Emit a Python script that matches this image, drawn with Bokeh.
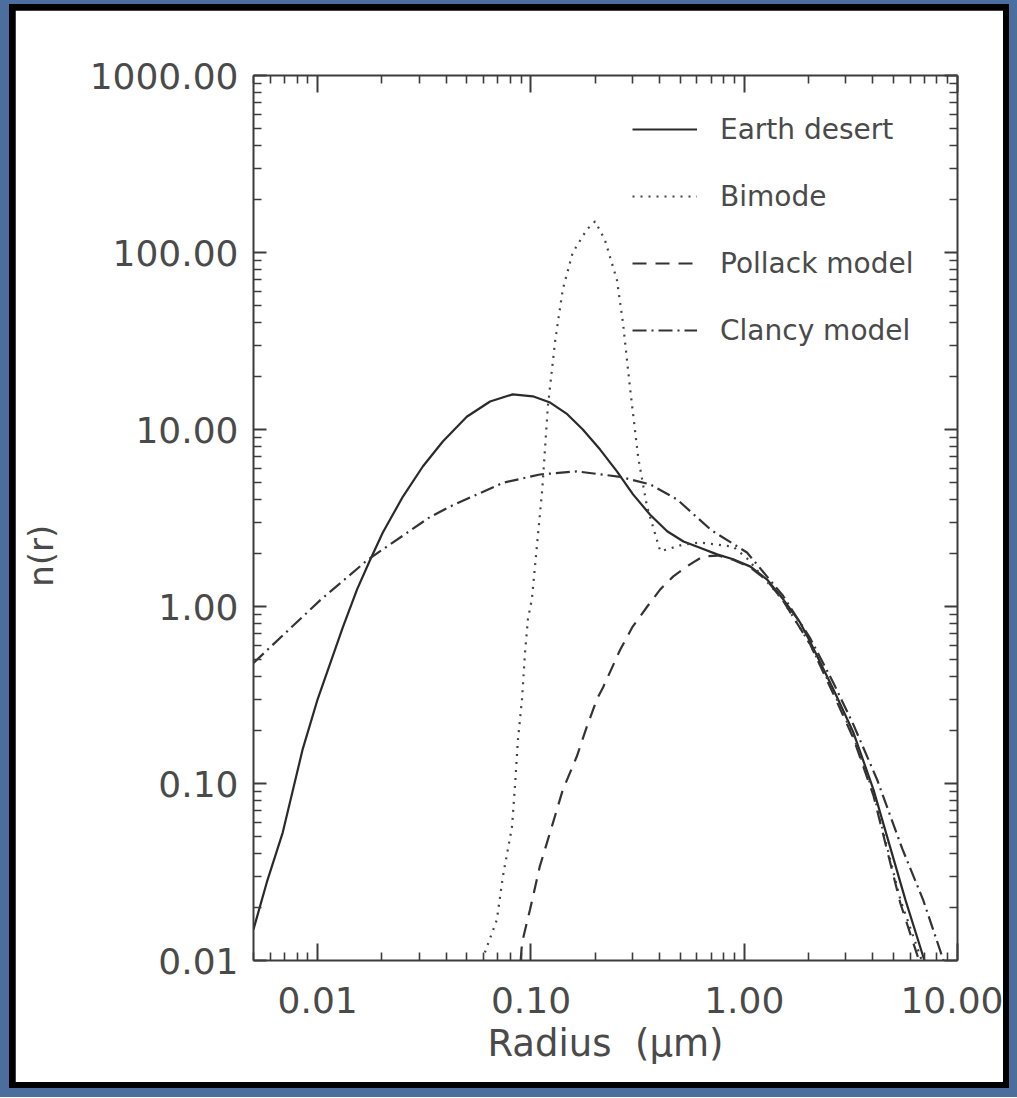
from bokeh.plotting import figure
from bokeh.models import (LogAxis, FixedTicker, PrintfTickFormatter, Range1d,
                          CustomLabelingPolicy)
from bokeh.layouts import column
from bokeh.embed import file_html
from bokeh.resources import INLINE

# ---------------- data ----------------
radius_desert = [0.005, 0.00577, 0.00686, 0.0085, 0.010, 0.0131, 0.0153, 0.0175, 0.0202,
                 0.0251, 0.0311, 0.0386, 0.050, 0.0643, 0.0822, 0.102, 0.123, 0.148, 0.175,
                 0.211, 0.253, 0.301, 0.362, 0.435, 0.519, 0.62, 0.746, 0.887, 1.07, 1.28,
                 1.52, 1.83, 2.04, 2.62, 3.25, 4.04, 5.7, 7.0]
n_desert = [0.015, 0.0276, 0.053, 0.156, 0.30, 0.76, 1.25, 1.8, 2.62,
            4.18, 6.18, 8.55, 11.8, 14.4, 15.8, 15.4, 14.2, 12.2, 10.0,
            7.7, 5.8, 4.3, 3.3, 2.66, 2.33, 2.15, 1.97, 1.85, 1.68, 1.42,
            1.10, 0.81, 0.63, 0.34, 0.194, 0.092, 0.022, 0.01]

radius_bimode = [0.0608, 0.0692, 0.0739, 0.0815, 0.0841, 0.0869, 0.0908, 0.0938, 0.0968,
                 0.101, 0.113, 0.120, 0.130, 0.141, 0.157, 0.183, 0.200, 0.222, 0.253,
                 0.270, 0.292, 0.318, 0.350, 0.404, 0.518, 0.62, 0.887, 1.04, 1.52, 2.04,
                 2.62, 3.25, 4.04, 5.4, 6.8]
n_bimode = [0.0111, 0.017, 0.030, 0.057, 0.096, 0.177, 0.30, 0.55, 0.85,
            1.10, 4.6, 13.5, 32, 62, 100, 135, 150, 118, 70,
            40, 16.8, 7.0, 3.67, 2.05, 2.24, 2.30, 2.18, 1.85, 1.08, 0.61,
            0.33, 0.185, 0.088, 0.022, 0.01]

radius_pollack = [0.0895, 0.0908, 0.099, 0.110, 0.123, 0.141, 0.164, 0.183, 0.204, 0.218,
                  0.262, 0.30, 0.351, 0.404, 0.465, 0.557, 0.642, 0.75, 0.887, 1.07, 1.28,
                  1.52, 2.04, 2.62, 3.25, 4.04, 5.4, 6.6]
n_pollack = [0.010, 0.0126, 0.0194, 0.034, 0.053, 0.092, 0.142, 0.21, 0.30, 0.35,
             0.57, 0.77, 1.0, 1.25, 1.48, 1.73, 1.92, 1.94, 1.84, 1.66, 1.40,
             1.08, 0.61, 0.32, 0.18, 0.085, 0.021, 0.01]

radius_clancy = [0.005, 0.0104, 0.0172, 0.0336, 0.0417, 0.074, 0.110, 0.164, 0.262, 0.362,
                 0.484, 0.70, 1.03, 1.52, 2.04, 2.62, 3.25, 4.2, 5.5, 6.9, 8.6]
n_clancy = [0.48, 1.1, 1.84, 3.2, 3.67, 5.0, 5.57, 5.8, 5.4, 4.9,
            4.03, 2.7, 2.02, 1.15, 0.66, 0.37, 0.215, 0.105, 0.043, 0.022, 0.01]

series_labels = ["Earth desert", "Bimode", "Pollack model", "Clancy model"]

x_major_ticks = [0.01, 0.1, 1.0, 10.0]
y_major_ticks = [0.01, 0.1, 1.0, 10.0, 100.0, 1000.0]
x_label = "Radius\u00a0 (μm)"
y_label = "n(r)"

# ---------------- figure ----------------
FONT = "DejaVu Sans"
INK = "#3c3c3c"
TXT = "#4a4a4a"

x_minor = [k * 10.0 ** d for d in range(-3, 1) for k in range(2, 10)]
y_minor = [k * 10.0 ** d for d in range(-2, 3) for k in range(2, 10)]

p = figure(x_axis_type="log", y_axis_type="log",
           x_range=Range1d(0.005, 10.0), y_range=Range1d(0.01, 1000.0),
           frame_width=704, frame_height=885,
           min_border_left=238, min_border_right=46,
           min_border_top=65, min_border_bottom=122,
           output_backend="svg", toolbar_location=None,
           background_fill_color="white", border_fill_color="white",
           outline_line_color=None)
p.grid.visible = False

p.line(radius_desert, n_desert, line_color="#2a2a2a", line_width=2.2,
       legend_label=series_labels[0])
p.line(radius_bimode, n_bimode, line_color="#444444", line_width=2.2,
       line_dash="2 6", legend_label=series_labels[1])
p.line(radius_pollack, n_pollack, line_color="#333333", line_width=2.2,
       line_dash="14 9", legend_label=series_labels[2])
p.line(radius_clancy, n_clancy, line_color="#333333", line_width=2.2,
       line_dash="14 5 2 5", legend_label=series_labels[3])

xticker = FixedTicker(ticks=x_major_ticks, minor_ticks=x_minor)
yticker = FixedTicker(ticks=y_major_ticks, minor_ticks=y_minor)

no_labels = CustomLabelingPolicy(
    code="for (const i of Array.from(indices)) indices.unset(i); return indices")


def style_axis(ax, major_len, labels=True):
    ax.axis_line_color = INK
    ax.axis_line_width = 2
    ax.major_tick_line_color = INK
    ax.major_tick_line_width = 2
    ax.minor_tick_line_color = INK
    ax.minor_tick_line_width = 1.6
    ax.major_tick_in = major_len
    ax.major_tick_out = 0
    ax.minor_tick_in = 8
    ax.minor_tick_out = 0
    ax.formatter = PrintfTickFormatter(format="%.2f")
    if labels:
        ax.major_label_text_font = FONT
        ax.major_label_text_font_size = "36px"
        ax.major_label_text_color = TXT
        ax.axis_label_text_font = FONT
        ax.axis_label_text_font_size = "37px"
        ax.axis_label_text_font_style = "normal"
        ax.axis_label_text_color = TXT
    else:
        ax.major_label_policy = no_labels
        ax.major_label_text_font_size = "1px"
        ax.major_label_standoff = 0


xa = p.xaxis[0]
xa.ticker = xticker
style_axis(xa, 17)
xa.major_label_standoff = 26
xa.axis_label = x_label
xa.axis_label_standoff = 6

ya = p.yaxis[0]
ya.ticker = yticker
style_axis(ya, 13)
ya.major_label_standoff = 15
# trailing no-break spaces push the rotated title a little below the frame centre
ya.axis_label = y_label + "\u00a0" * 7
ya.axis_label_text_font_size = "34px"
ya.axis_label_standoff = 26

top = LogAxis(ticker=xticker)
style_axis(top, 17, labels=False)
p.add_layout(top, "above")

right = LogAxis(ticker=yticker)
style_axis(right, 13, labels=False)
p.add_layout(right, "right")

lg = p.legend[0]
lg.location = "top_right"
lg.background_fill_alpha = 0
lg.border_line_alpha = 0
lg.glyph_width = 65
lg.glyph_height = 60
lg.label_height = 60
lg.label_width = 213
lg.label_standoff = 23
lg.spacing = 7
lg.padding = 17
lg.margin = 7
lg.label_text_font = FONT
lg.label_text_font_size = "28px"
lg.label_text_color = TXT
lg.click_policy = "none"

inner = column(p, styles={"background-color": "#000000", "padding": "6px"})
page = column(inner, styles={"background-color": "#4b6e9f",
                             "padding": "4px 8px 9px 9px"})

open("out.html", "w").write(file_html(page, INLINE))
